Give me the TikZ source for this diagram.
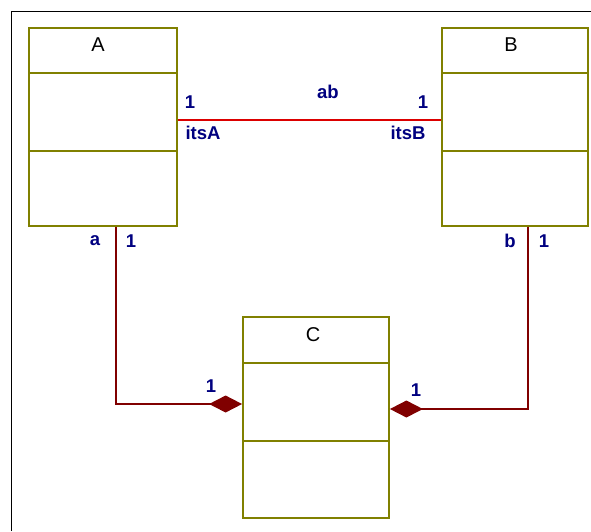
\documentclass[tikz,border=0pt]{standalone}
\usepackage{fontspec}
\setmainfont{Liberation Sans}
\usetikzlibrary{arrows.meta}
\definecolor{boxolive}{RGB}{128,128,0}
\definecolor{compred}{RGB}{128,0,0}
\definecolor{assocred}{RGB}{220,0,0}
\definecolor{lblblue}{RGB}{0,0,128}
\tikzset{
  classbox/.style={draw=boxolive, line width=1.8pt, rectangle, inner sep=0pt},
  sepline/.style={draw=boxolive, line width=1.8pt},
  cname/.style={font=\fontsize{20}{20}\selectfont, text=black, inner sep=0pt},
  lbl/.style={font=\bfseries\fontsize{18.5}{18.5}\selectfont, text=lblblue, inner sep=0pt},
  comp/.style={draw=compred, line width=2pt, -{Diamond[length=33pt,width=17pt,fill=compred]}},
  assoc/.style={draw=assocred, line width=1.6pt},
}
\begin{document}
\begin{tikzpicture}[x=1pt,y=-1pt]
\useasboundingbox (0,0) rectangle (591,531);
% frame
\draw[black, line width=1.8pt] (11.5,531) -- (11.5,11.5) -- (591,11.5);
% classes
\node[classbox, minimum width=148pt, minimum height=198pt] (A) at (103,127) {};
\node[classbox, minimum width=146pt, minimum height=198pt] (B) at (515,127) {};
\node[classbox, minimum width=146pt, minimum height=201pt] (C) at (316,417.5) {};
\node[cname] (An) at (98,45) {A};
\node[cname] (Bn) at (511,45) {B};
\node[cname] (Cn) at (313,335) {C};
\draw[sepline] (A.west |- 0,73) -- (A.east |- 0,73);
\draw[sepline] (A.west |- 0,151) -- (A.east |- 0,151);
\draw[sepline] (B.west |- 0,73) -- (B.east |- 0,73);
\draw[sepline] (B.west |- 0,151) -- (B.east |- 0,151);
\draw[sepline] (C.west |- 0,363) -- (C.east |- 0,363);
\draw[sepline] (C.west |- 0,441) -- (C.east |- 0,441);
% association ab
\draw[assoc] (A.east |- 0,120) -- (B.west |- 0,120);
\node[lbl] (l1) at (190,102) {1};
\node[lbl] (lab) at (328,92) {ab};
\node[lbl] (l2) at (423,102) {1};
\node[lbl] (litsA) at (203,133) {itsA};
\node[lbl] (litsB) at (408,133) {itsB};
% compositions
\coordinate (ca) at (116,226);
\coordinate (cb) at (528,226);
\draw[comp] (A.south -| ca) |- (C.west |- 0,404);
\draw[comp] (B.south -| cb) |- (C.east |- 0,409);
\node[lbl] (la) at (95,241) {a};
\node[lbl] (la1) at (131,241) {1};
\node[lbl] (lb) at (510,241) {b};
\node[lbl] (lb1) at (544,241) {1};
\node[lbl] (lc1) at (211,386) {1};
\node[lbl] (lc2) at (416,390) {1};
\end{tikzpicture}
\end{document}
